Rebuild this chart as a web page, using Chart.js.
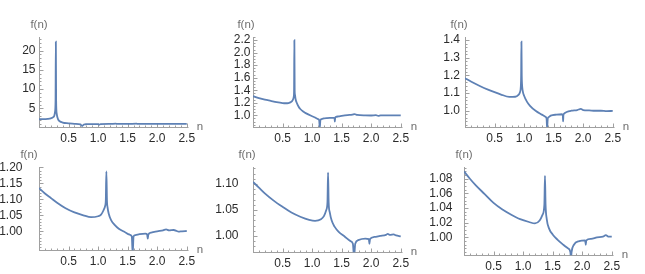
<!DOCTYPE html>
<html>
<head>
<meta charset="utf-8">
<script src="https://cdn.jsdelivr.net/npm/chart.js@4"></script>
<style>
  html, body { margin: 0; padding: 0; background: #fff; }
  body { width: 645px; height: 274px; position: relative; overflow: hidden; }
  canvas { position: absolute; }
</style>
</head>
<body>
<canvas id="c1" width="215" height="145" style="left:0;top:0"></canvas>
<canvas id="c2" width="215" height="145" style="left:215px;top:0"></canvas>
<canvas id="c3" width="215" height="145" style="left:430px;top:0"></canvas>
<canvas id="c4" width="215" height="144" style="left:0;top:130px"></canvas>
<canvas id="c5" width="215" height="144" style="left:215px;top:130px"></canvas>
<canvas id="c6" width="215" height="144" style="left:430px;top:130px"></canvas>
<script>
// shared x ticks
const xTicks = [0.5, 1.0, 1.5, 2.0, 2.5]

// panel 1
const n1 = [0, 0.1, 0.15, 0.2, 0.24, 0.26, 0.27, 0.28, 0.285, 0.29, 0.3, 0.32, 0.35, 0.4, 0.5, 0.6, 0.7, 0.73, 0.76, 0.8, 0.9, 1.0, 1.02, 1.04, 1.2, 1.3, 1.32, 1.5, 1.65, 1.67, 1.8, 2.0, 2.5]
const f1 = [2.2, 2.25, 2.3, 2.45, 2.75, 3.2, 4.0, 7.0, 22.3, 7.0, 3.6, 2.3, 1.7, 1.35, 1.15, 1.0, 0.85, 0.45, 0.85, 0.92, 0.95, 0.96, 0.8, 0.97, 1.0, 1.05, 1.0, 1.0, 1.06, 1.0, 1.0, 1.0, 1.0]
const yTicks1 = [5, 10, 15, 20]

// panel 2
const n2 = [0, 0.1, 0.2, 0.3, 0.4, 0.5, 0.55, 0.6, 0.64, 0.66, 0.68, 0.69, 0.695, 0.7, 0.705, 0.71, 0.72, 0.74, 0.77, 0.8, 0.85, 0.9, 1.0, 1.05, 1.1, 1.12, 1.13, 1.14, 1.16, 1.2, 1.25, 1.3, 1.37, 1.38, 1.385, 1.39, 1.4, 1.45, 1.5, 1.6, 1.68, 1.72, 1.76, 1.9, 2.0, 2.08, 2.12, 2.16, 2.3, 2.5]
const f2 = [1.305, 1.275, 1.25, 1.23, 1.21, 1.195, 1.192, 1.196, 1.21, 1.225, 1.26, 1.3, 1.4, 2.2, 1.4, 1.33, 1.26, 1.2, 1.14, 1.1, 1.06, 1.03, 0.985, 0.965, 0.94, 0.92, 0.80, 0.92, 0.94, 0.95, 0.955, 0.958, 0.96, 0.955, 0.90, 0.955, 0.972, 0.982, 0.99, 1.003, 1.01, 1.02, 1.005, 0.998, 0.997, 1.002, 0.99, 0.998, 1.0, 0.998]
const yTicks2 = [1.0, 1.2, 1.4, 1.6, 1.8, 2.0, 2.2]

// panel 3
const n3 = [0, 0.1, 0.25, 0.4, 0.5, 0.6, 0.75, 0.85, 0.9, 0.93, 0.945, 0.95, 0.955, 0.96, 0.965, 0.975, 1.0, 1.05, 1.1, 1.2, 1.3, 1.36, 1.38, 1.39, 1.4, 1.42, 1.45, 1.55, 1.64, 1.655, 1.66, 1.665, 1.68, 1.72, 1.8, 1.9, 1.96, 2.0, 2.1, 2.2, 2.3, 2.4, 2.5]
const f3 = [1.184, 1.165, 1.14, 1.118, 1.105, 1.093, 1.078, 1.079, 1.088, 1.105, 1.14, 1.2, 1.39, 1.2, 1.15, 1.115, 1.085, 1.05, 1.028, 0.998, 0.978, 0.966, 0.955, 0.90, 0.955, 0.965, 0.972, 0.978, 0.98, 0.975, 0.94, 0.975, 0.985, 0.993, 1.0, 1.004, 1.01, 1.004, 1.002, 1.0, 1.0, 0.998, 0.999]
const yTicks3 = [1.0, 1.1, 1.2, 1.3, 1.4]

// panel 4
const n4 = [0, 0.1, 0.2, 0.3, 0.45, 0.6, 0.75, 0.88, 1.0, 1.05, 1.09, 1.12, 1.13, 1.14, 1.15, 1.16, 1.18, 1.22, 1.28, 1.35, 1.45, 1.53, 1.57, 1.585, 1.6, 1.63, 1.7, 1.8, 1.83, 1.84, 1.85, 1.9, 2.0, 2.1, 2.15, 2.2, 2.28, 2.33, 2.36, 2.42, 2.5]
const f4 = [1.135, 1.118, 1.104, 1.09, 1.072, 1.059, 1.05, 1.044, 1.047, 1.052, 1.065, 1.08, 1.095, 1.187, 1.095, 1.075, 1.055, 1.035, 1.02, 1.008, 0.998, 0.99, 0.984, 0.93, 0.984, 0.988, 0.991, 0.993, 0.99, 0.977, 0.99, 0.996, 1.0, 1.003, 1.006, 1.003, 1.004, 1.001, 0.999, 1.0, 1.001]
const yTicks4 = [1.00, 1.05, 1.10, 1.15, 1.20]

// panel 5
const n5 = [0, 0.1, 0.2, 0.35, 0.5, 0.65, 0.8, 0.95, 1.05, 1.15, 1.2, 1.24, 1.26, 1.27, 1.28, 1.3, 1.33, 1.38, 1.45, 1.55, 1.65, 1.69, 1.71, 1.73, 1.78, 1.9, 1.96, 1.97, 1.98, 2.05, 2.15, 2.25, 2.28, 2.32, 2.38, 2.42, 2.5]
const f5 = [1.104, 1.093, 1.082, 1.068, 1.056, 1.045, 1.037, 1.031, 1.029, 1.032, 1.038, 1.05, 1.065, 1.122, 1.065, 1.045, 1.03, 1.018, 1.008, 0.999, 0.99, 0.985, 0.96, 0.985, 0.992, 0.995, 0.994, 0.985, 0.994, 0.998, 1.0, 1.002, 1.004, 1.002, 1.003, 1.001, 0.999]
const yTicks5 = [1.00, 1.05, 1.10]

// panel 6
const n6 = [0, 0.1, 0.2, 0.35, 0.5, 0.65, 0.8, 0.95, 1.1, 1.2, 1.28, 1.33, 1.36, 1.37, 1.38, 1.4, 1.44, 1.5, 1.58, 1.68, 1.76, 1.8, 1.81, 1.82, 1.86, 1.95, 2.05, 2.06, 2.07, 2.15, 2.25, 2.35, 2.4, 2.45, 2.5]
const f6 = [1.09, 1.08, 1.071, 1.059, 1.047, 1.038, 1.031, 1.025, 1.021, 1.019, 1.023, 1.031, 1.045, 1.084, 1.045, 1.025, 1.012, 1.004, 0.997, 0.99, 0.985, 0.98, 0.97, 0.98, 0.99, 0.995, 0.996, 0.99, 0.996, 0.998, 1.0, 1.001, 1.003, 1.001, 1.001]
const yTicks6 = [1.00, 1.02, 1.04, 1.06, 1.08]

const panels = [
  { id: 'c1', n: n1, f: f1, ticks: yTicks1, min: 0.2, max: 23.5, dec: 0, minor: 1, gap: 3.5, axisW: 39, fnX: 39 },
  { id: 'c2', n: n2, f: f2, ticks: yTicks2, min: 0.813, max: 2.25, dec: 1, minor: 0.05, gap: 2.5, axisW: 38, fnX: 31 },
  { id: 'c3', n: n3, f: f3, ticks: yTicks3, min: 0.908, max: 1.417, dec: 1, minor: 0.02, gap: 5, axisW: 35, fnX: 29 },
  { id: 'c4', n: n4, f: f4, ticks: yTicks4, min: 0.9406, max: 1.201, dec: 2, minor: 0.01, gap: 16.5, axisW: 39, fnX: 29 },
  { id: 'c5', n: n5, f: f5, ticks: yTicks5, min: 0.9685, max: 1.1327, dec: 2, minor: 0.01, gap: 14.5, axisW: 38, fnX: 32 },
  { id: 'c6', n: n6, f: f6, ticks: yTicks6, min: 0.9756, max: 1.096, dec: 2, minor: 0.005, gap: 11.5, axisW: 34, fnX: 34 },
]

const X_MAX = 2.53
const PX_PER_N = 59.1
const AXIS_GRAY = '#a0a0a0'

// mathematica-style axes: lines at the origin with inward major/minor ticks
const mmaAxes = {
  id: 'mmaAxes',
  beforeDatasetsDraw(chart, args, opts) {
    const { ctx, chartArea: a, scales: { x, y } } = chart
    ctx.save()
    ctx.strokeStyle = AXIS_GRAY
    ctx.lineWidth = 1
    ctx.beginPath()
    const yb = Math.round(a.bottom) + 0.5
    const xl = Math.round(a.left) + 0.5
    ctx.moveTo(a.left, yb); ctx.lineTo(a.right, yb)
    ctx.moveTo(xl, a.bottom); ctx.lineTo(xl, a.top)
    // x ticks every 0.1, major every 0.5
    for (let k = 1; k * 0.1 <= X_MAX + 1e-9; k++) {
      const px = Math.round(x.getPixelForValue(k * 0.1)) + 0.5
      const len = k % 5 === 0 ? 4 : 2
      ctx.moveTo(px, yb); ctx.lineTo(px, yb - len)
    }
    // y ticks
    const step = opts.minor
    for (let k = Math.ceil(y.min / step); k * step <= y.max + 1e-9; k++) {
      const v = k * step
      const py = Math.round(y.getPixelForValue(v)) + 0.5
      if (py > yb - 1) continue
      const major = opts.ticks.some((t) => Math.abs(t - v) < step / 10)
      ctx.moveTo(xl, py); ctx.lineTo(xl + (major ? 4 : 2), py)
    }
    ctx.stroke()
    // axis labels
    ctx.fillStyle = '#6f6f6f'
    ctx.font = '11.5px "Liberation Sans", Arial, sans-serif'
    ctx.textAlign = 'center'
    ctx.textBaseline = 'middle'
    ctx.fillText('f(n)', opts.fnX, 25)
    ctx.fillText('n', a.left + 161, yb - 1)
    ctx.restore()
  }
}

Chart.defaults.font.family = '"Liberation Sans", Arial, sans-serif'
Chart.defaults.font.size = 12
Chart.defaults.color = '#2b2b2b'

panels.forEach((p) => {
  const el = document.getElementById(p.id)
  const right = el.width - (p.axisW + PX_PER_N * X_MAX)
  new Chart(el, {
    type: 'line',
    data: {
      datasets: [{
        data: p.n.map((v, i) => ({ x: v, y: p.f[i] })),
        borderColor: '#5e81b5',
        borderWidth: 1.8,
        pointRadius: 0,
        cubicInterpolationMode: 'monotone',
        fill: false,
      }],
    },
    options: {
      responsive: false,
      animation: false,
      events: [],
      layout: { padding: { top: 37, right: right, left: 0, bottom: 0 } },
      plugins: {
        legend: { display: false },
        tooltip: { enabled: false },
        mmaAxes: { ticks: p.ticks, minor: p.minor, fnX: p.fnX },
      },
      scales: {
        x: {
          type: 'linear',
          min: 0,
          max: X_MAX,
          grid: { display: false, drawTicks: false },
          border: { display: false },
          afterBuildTicks: (s) => { s.ticks = xTicks.map((v) => ({ value: v })) },
          afterFit: (s) => { s.height = el.height - 127 },
          ticks: { padding: 4, autoSkip: false, maxRotation: 0, callback: (v) => Number(v).toFixed(1) },
        },
        y: {
          type: 'linear',
          min: p.min,
          max: p.max,
          grid: { display: false, drawTicks: false },
          border: { display: false },
          afterBuildTicks: (s) => { s.ticks = p.ticks.map((v) => ({ value: v })) },
          afterFit: (s) => { s.width = p.axisW },
          ticks: { padding: p.gap, autoSkip: false, callback: (v) => Number(v).toFixed(p.dec) },
        },
      },
    },
    plugins: [mmaAxes],
  })
})
</script>
</body>
</html>
